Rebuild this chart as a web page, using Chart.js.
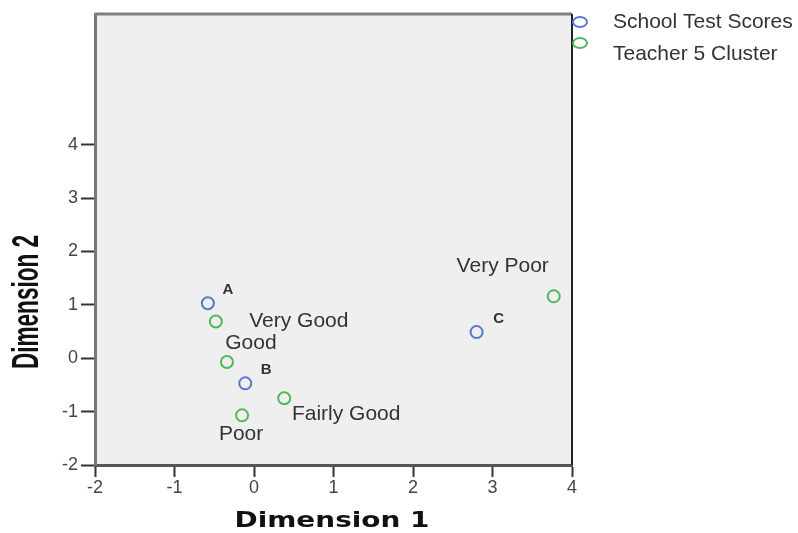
<!DOCTYPE html>
<html>
<head>
<meta charset="utf-8">
<script src="https://cdn.jsdelivr.net/npm/chart.js@4"></script>
<style>
  html, body { margin: 0; padding: 0; background: #fff; }
  #wrap { width: 798px; height: 533px; }
</style>
</head>
<body>
<div id="wrap"><canvas id="myChart" width="798" height="533"></canvas></div>
<script>
// school test score groups
const schoolLabels = ['A', 'B', 'C'];
const schoolX = [-0.58, -0.11, 2.80];
const schoolY = [1.03, -0.47, 0.49];

// teacher 5 cluster categories
const teacherLabels = ['Very Good', 'Good', 'Fairly Good', 'Poor', 'Very Poor'];
const teacherX = [-0.48, -0.34, 0.38, -0.15, 3.77];
const teacherY = [0.69, -0.07, -0.75, -1.07, 1.16];

const xTicks = [-2, -1, 0, 1, 2, 3, 4];
const yTicks = [-2, -1, 0, 1, 2, 3, 4];

// label offsets (px) from each point, same order as the labels
const schoolOffsets = [[20, -13], [21, -13], [22, -13]];
const teacherOffsets = [[83, 0], [24, -19], [62, 16], [-1, 19], [-51, -30]];

const toPoints = (xs, ys) => xs.map((x, i) => ({ x: x, y: ys[i] }));

// draws text squeezed/stretched to a given width
function fitText(ctx, text, cx, cy, width, angle) {
    const w = ctx.measureText(text).width;
    ctx.save();
    ctx.translate(cx, cy);
    ctx.rotate(angle);
    ctx.scale(width / w, 1);
    ctx.fillText(text, 0, 0);
    ctx.restore();
}

const areaPlugin = {
    id: 'areaBg',
    beforeDraw(chart) {
        const { ctx, chartArea: a } = chart;
        ctx.save();
        ctx.fillStyle = '#efefef';
        ctx.fillRect(a.left, a.top, a.right - a.left, a.bottom - a.top);
        ctx.restore();
    },
    afterDatasetsDraw(chart) {
        const { ctx, chartArea: a } = chart;
        ctx.save();
        // top and right frame
        ctx.strokeStyle = '#808080';
        ctx.lineWidth = 3;
        ctx.beginPath();
        ctx.moveTo(a.left, a.top);
        ctx.lineTo(a.right, a.top);
        ctx.stroke();
        ctx.strokeStyle = '#222';
        ctx.lineWidth = 2;
        ctx.beginPath();
        ctx.moveTo(a.right, a.top);
        ctx.lineTo(a.right, a.bottom);
        ctx.stroke();

        // point labels
        ctx.fillStyle = '#333';
        ctx.textAlign = 'center';
        ctx.textBaseline = 'middle';
        chart.data.datasets.forEach((ds, di) => {
            const meta = chart.getDatasetMeta(di);
            ctx.font = di === 0 ? 'bold 15px "Liberation Sans", Arial' : '21px "Liberation Sans", Arial';
            meta.data.forEach((pt, i) => {
                const off = ds.offsets[i];
                ctx.fillText(ds.names[i], pt.x + off[0], pt.y + off[1]);
            });
        });

        // legend, top right
        ctx.font = '21px "Liberation Sans", Arial';
        ctx.textAlign = 'left';
        chart.data.datasets.forEach((ds, di) => {
            const y = 22 + di * 21;
            ctx.strokeStyle = ds.borderColor;
            ctx.lineWidth = 2;
            ctx.beginPath();
            ctx.ellipse(580, y, 7, 5, 0, 0, Math.PI * 2);
            ctx.stroke();
            ctx.fillStyle = '#333';
            ctx.fillText(ds.label, 613, 22 + di * 32);
        });

        // axis titles
        ctx.fillStyle = '#111';
        ctx.textAlign = 'center';
        ctx.font = 'bold 22px "DejaVu Sans", Verdana';
        fitText(ctx, chart.options.scales.x.title.text, 332, 521, 195, 0);
        ctx.font = 'bold 37px "Liberation Sans Narrow", "Liberation Sans", Arial';
        fitText(ctx, chart.options.scales.y.title.text, 28, 302, 134, -Math.PI / 2);
        ctx.restore();
    }
};

const ctx = document.getElementById('myChart').getContext('2d');
new Chart(ctx, {
    type: 'scatter',
    data: {
        datasets: [
            {
                label: 'School Test Scores',
                data: toPoints(schoolX, schoolY),
                names: schoolLabels,
                offsets: schoolOffsets,
                borderColor: '#5478d4',
                backgroundColor: 'rgba(0,0,0,0)',
                borderWidth: 2,
                pointRadius: 6,
            },
            {
                label: 'Teacher 5 Cluster',
                data: toPoints(teacherX, teacherY),
                names: teacherLabels,
                offsets: teacherOffsets,
                borderColor: '#4dbb55',
                backgroundColor: 'rgba(0,0,0,0)',
                borderWidth: 2,
                pointRadius: 6,
            },
        ],
    },
    options: {
        responsive: false,
        animation: false,
        layout: { padding: { top: 14, right: 226, left: 0, bottom: 0 } },
        plugins: {
            legend: { display: false },
            tooltip: { enabled: false },
        },
        scales: {
            x: {
                type: 'linear',
                min: -2,
                max: 4,
                afterBuildTicks: (s) => { s.ticks = xTicks.map(v => ({ value: v })); },
                afterFit: (s) => { s.height = 68; },
                grid: { drawOnChartArea: false, drawTicks: true, tickLength: 12, tickWidth: 2, tickColor: '#333' },
                border: { display: true, width: 3, color: '#555' },
                ticks: { color: '#444', font: { size: 18, family: '"Liberation Sans", Arial' }, padding: 0 },
                title: { display: false, text: 'Dimension 1' },
            },
            y: {
                type: 'linear',
                min: -2,
                max: 6.45,
                afterBuildTicks: (s) => { s.ticks = yTicks.map(v => ({ value: v })); },
                afterFit: (s) => { s.width = 95; },
                grid: { drawOnChartArea: false, drawTicks: true, tickLength: 14, tickWidth: 2, tickColor: '#333' },
                border: { display: true, width: 3, color: '#777' },
                ticks: { color: '#444', font: { size: 18, family: '"Liberation Sans", Arial' }, padding: 3 },
                title: { display: false, text: 'Dimension 2' },
            },
        },
    },
    plugins: [areaPlugin],
});
</script>
</body>
</html>
